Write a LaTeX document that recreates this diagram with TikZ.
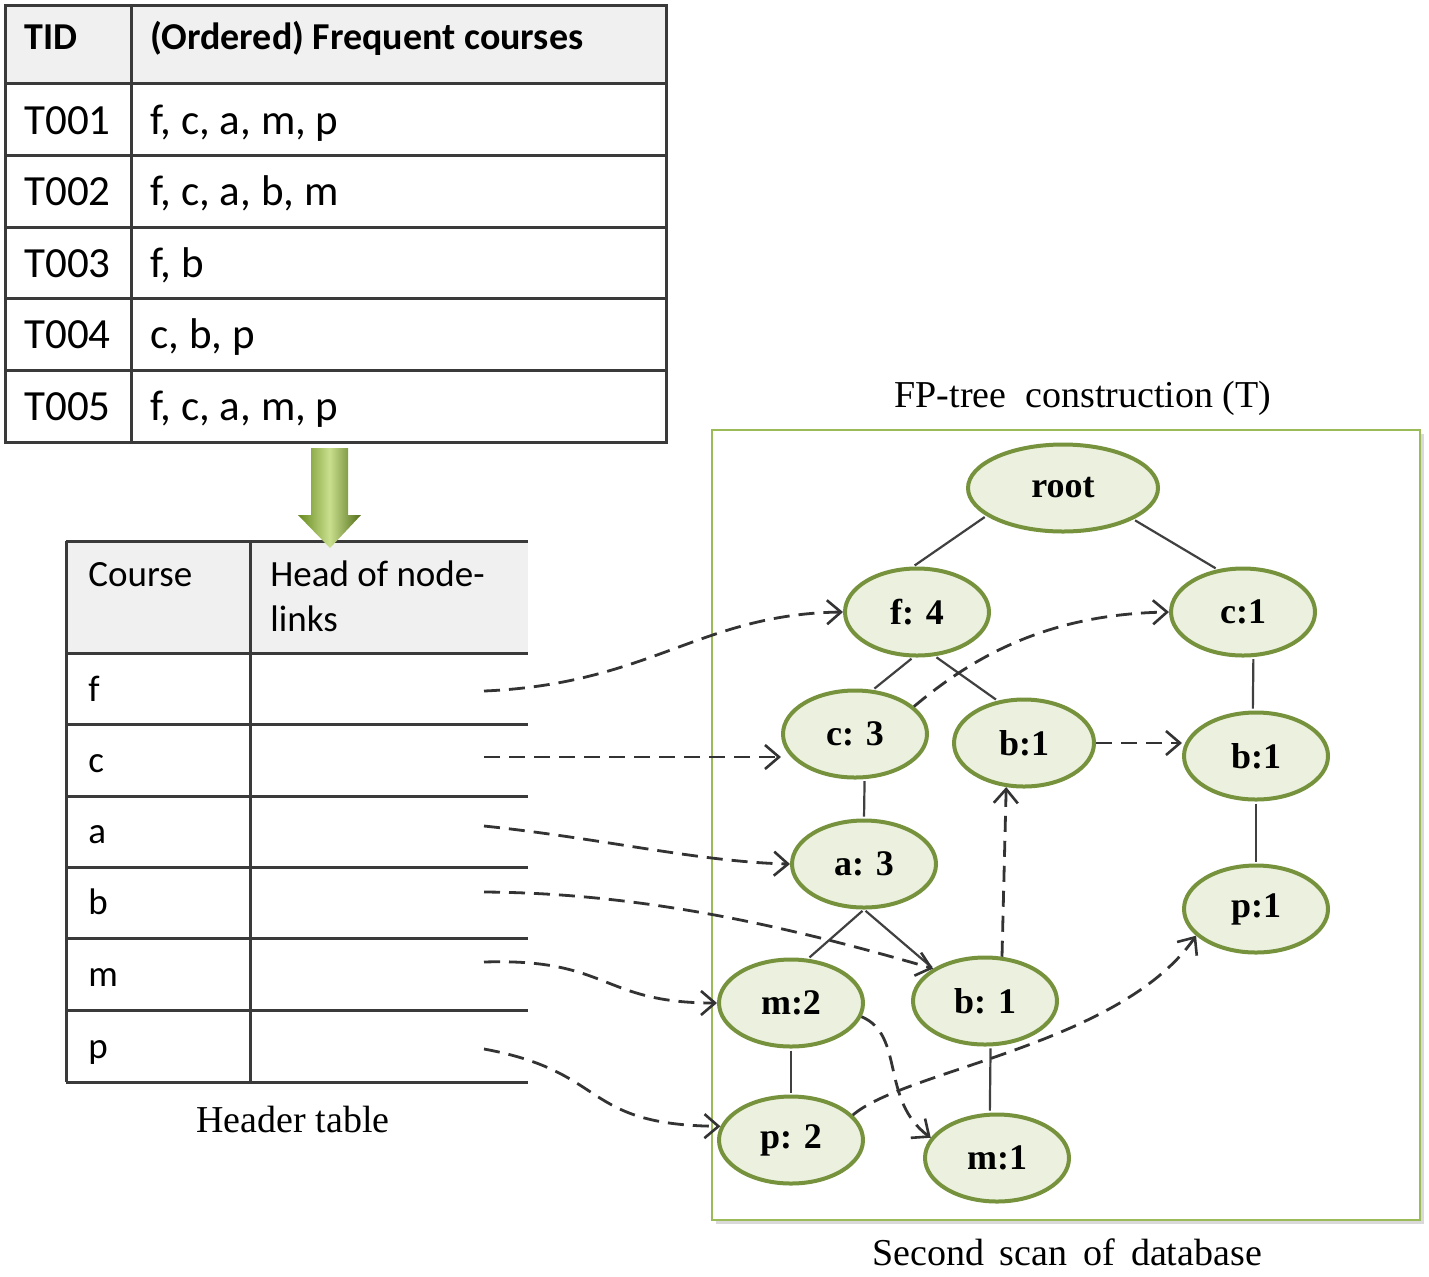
\documentclass[tikz,border=0pt]{standalone}
\usepackage{fontspec}
\setmainfont{Liberation Serif}
\newfontfamily\calibri{Carlito}
\usetikzlibrary{shapes.geometric,arrows.meta}
\definecolor{nodeborder}{HTML}{76923C}
\definecolor{nodefill}{HTML}{EBF1DE}
\definecolor{boxborder}{HTML}{9BBB59}
\definecolor{gridline}{HTML}{3A3A3A}
\definecolor{headfill}{HTML}{F0F0F0}
\definecolor{arrowdark}{HTML}{66891E}
\definecolor{arrowlight}{HTML}{C9DF8E}
\begin{document}
\begin{tikzpicture}[x=0.5pt,y=-0.5pt,
  fpnode/.style={ellipse, draw=nodeborder, fill=nodefill, line width=2pt,
    minimum width=72pt, minimum height=43.5pt, inner sep=0pt,
    font=\fontsize{18}{20}\selectfont\bfseries},
  treeedge/.style={draw=black!75, line width=1.1pt, shorten <=1pt, shorten >=1pt},
  linkarrow/.style={draw=black!80, line width=1.4pt, dash pattern=on 8pt off 4.5pt,
    -{Straight Barb[length=7pt,width=12pt,line width=1.3pt]}},
  gridln/.style={draw=gridline, line width=1.5pt},
  ttext/.style={anchor=base west, inner sep=0pt, font=\calibri\fontsize{21.5}{24}\selectfont},
  thead/.style={anchor=base west, inner sep=0pt, font=\calibri\bfseries\fontsize{19}{22}\selectfont},
  htext/.style={anchor=base west, inner sep=0pt, font=\calibri\fontsize{18.5}{22}\selectfont},
  captext/.style={anchor=base, inner sep=0pt, font=\fontsize{19}{22}\selectfont},
]
\useasboundingbox (0,0) rectangle (1429,1276);

% ---------- top table ----------
\fill[headfill] (5,5) rectangle (666,83);
\draw[gridln] (5,5) rectangle (666,442);
\foreach \y in {83,155,227,298,370} \draw[gridln] (5,\y) -- (666,\y);
\draw[gridln] (131,5) -- (131,442);

\node[thead] (tid) at (24,49) {TID};
\node[thead] (ofc) at (150,49) {(Ordered) Frequent courses};
\node[ttext] (t1) at (24,134) {T001};
\node[ttext] (t1c) at (150,134) {f, c, a, m, p};
\node[ttext] (t2) at (24,205) {T002};
\node[ttext] (t2c) at (150,205) {f, c, a, b, m};
\node[ttext] (t3) at (24,277) {T003};
\node[ttext] (t3c) at (150,277) {f, b};
\node[ttext] (t4) at (24,348) {T004};
\node[ttext] (t4c) at (150,348) {c, b, p};
\node[ttext] (t5) at (24,420) {T005};
\node[ttext] (t5c) at (150,420) {f, c, a, m, p};

% ---------- header table ----------
\fill[headfill] (66,541) rectangle (528,653);
\foreach \y in {541,653,724,796,867,938,1010,1082} \draw[gridln] (66,\y) -- (528,\y);
\draw[gridln] (66,541) -- (66,1082);
\draw[gridln] (250,541) -- (250,1082);

\node[htext] (hcourse) at (88,586) {Course};
\node[htext] (hhead1) at (270,586) {Head of node-};
\node[htext] (hhead2) at (270,631) {links};
\node[htext] (rf) at (88,701) {f};
\node[htext] (rc) at (88,772) {c};
\node[htext] (ra) at (88,843) {a};
\node[htext] (rb) at (88,914) {b};
\node[htext] (rm) at (88,986) {m};
\node[htext] (rp) at (88,1058) {p};
\node[captext] (hcap) at (293,1132) {Header table};

% ---------- green block arrow ----------
\shade[left color=arrowdark, right color=arrowdark!80!black, middle color=arrowlight]
  (311,448) -- (348,448) -- (348,515) -- (361,515) -- (330,548) -- (298,515) -- (311,515) -- cycle;

% ---------- FP-tree box ----------
\node[captext] (fptitle) at (1083,407) {FP-tree\ \ construction (T)};
\fill[black!15] (716,434) rectangle (1424,1224);
\draw[boxborder, fill=white, line width=1pt] (712,430) rectangle (1420,1220);
\node[captext] (scap) at (1067,1265) {\spaceskip=0.42em Second scan of database};

% nodes
\node[fpnode, minimum width=95pt] (root) at (1063,488) {root};
\node[fpnode] (f4) at (917,612) {f: 4};
\node[fpnode] (c1) at (1243,612) {c:1};
\node[fpnode] (c3) at (855,734) {c: 3};
\node[fpnode, minimum width=70pt] (b1m) at (1024,743) {b:1};
\node[fpnode] (b1r) at (1256,756) {b:1};
\node[fpnode] (a3) at (864,864) {a: 3};
\node[fpnode] (p1) at (1256,909) {p:1};
\node[fpnode] (m2) at (791,1003) {m:2};
\node[fpnode] (b1b) at (985,1001) {b: 1};
\node[fpnode] (p2) at (791,1140) {p: 2};
\node[fpnode] (m1) at (997,1158) {m:1};

% tree edges
\draw[treeedge] (root.200) -- (f4.95);
\draw[treeedge] (root.336) -- (c1.121);
\draw[treeedge] (f4.265) -- (c3.68);
\draw[treeedge] (f4.292) -- (b1m.122);
\draw[treeedge] (c1.283) -- (b1r.94);
\draw[treeedge] (c3.282) -- (a3.north);
\draw[treeedge] (b1r.south) -- (p1.north);
\draw[treeedge] (a3.south) -- (m2.69);
\draw[treeedge] (a3.south) -- (b1b.148);
\draw[treeedge] (m2.south) -- (p2.north);
\draw[treeedge] (b1b.277) -- (m1.99);

% header-table link starts
\coordinate (lf) at (484,691);
\coordinate (lc) at (484,757);
\coordinate (la) at (484,826);
\coordinate (lb) at (484,892);
\coordinate (lm) at (484,962);
\coordinate (lp) at (484,1049);

% node-links
\draw[linkarrow] (lf) .. controls (650,684) and (700,614) .. (f4.west);
\draw[linkarrow] (lc) -- (lc -| c3.west);
\draw[linkarrow] (la) .. controls (600,838) and (700,862) .. (a3.west);
\draw[linkarrow] (lb) .. controls (650,893) and (800,930) .. (b1b.148);
\draw[linkarrow] (lm) .. controls (610,958) and (600,1003) .. (m2.west);
\draw[linkarrow] (lp) .. controls (610,1072) and (580,1125) .. (p2.169);
\draw[linkarrow] (c3.25) .. controls (975,655) and (1050,614) .. (c1.west);
\draw[linkarrow] (b1m.east) -- (b1m.east -| b1r.west);
\draw[linkarrow] (b1b.69) -- (b1m.248);
\draw[linkarrow] (m2.349) .. controls (905,1035) and (880,1100) .. (m1.163);
\draw[linkarrow] (p2.22) .. controls (905,1070) and (1120,1045) .. (p1.204);
\end{tikzpicture}
\end{document}
